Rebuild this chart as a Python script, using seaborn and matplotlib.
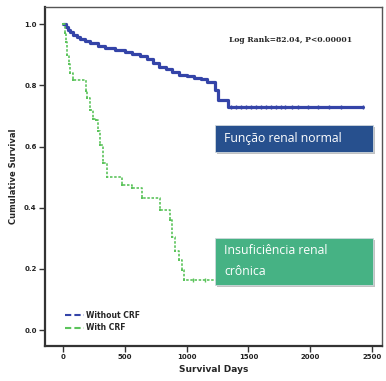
import matplotlib
matplotlib.use("Agg")
import matplotlib.pyplot as plt
import seaborn as sns
import pandas as pd
from matplotlib.patches import Rectangle
from matplotlib.lines import Line2D

# ---- data ----
days_without = [0, 20, 40, 60, 80, 110, 140, 180, 220, 280, 340, 420, 500, 560, 620,
                680, 730, 780, 830, 880, 940, 1000, 1060, 1120, 1165, 1230, 1254, 1335, 2430]
surv_without = [1.0, 0.99, 0.98, 0.975, 0.965, 0.958, 0.95, 0.945, 0.938, 0.93, 0.922,
                0.915, 0.908, 0.903, 0.895, 0.885, 0.873, 0.86, 0.852, 0.845, 0.835,
                0.83, 0.825, 0.82, 0.81, 0.784, 0.752, 0.729, 0.729]
days_with = [0, 15, 25, 35, 50, 60, 80, 185, 195, 215, 240, 265, 280, 300, 324, 356,
             477, 558, 639, 785, 866, 882, 906, 940, 963, 975, 1250]
surv_with = [1.0, 0.97, 0.94, 0.9, 0.87, 0.84, 0.817, 0.78, 0.76, 0.72, 0.69, 0.686,
             0.65, 0.605, 0.546, 0.5, 0.474, 0.464, 0.431, 0.392, 0.359, 0.304, 0.26,
             0.23, 0.196, 0.163, 0.163]
censor_without = [1360, 1400, 1440, 1480, 1520, 1560, 1600, 1640, 1680, 1720, 1760,
                  1800, 1850, 1900, 1980, 2060, 2150, 2250, 2430]
censor_with = [1050, 1150]
groups = ["Without CRF", "With CRF"]
yticks = [0.0, 0.2, 0.4, 0.6, 0.8, 1.0]
xticks = [0, 500, 1000, 1500, 2000, 2500]
colors = {"Without CRF": "#3444a8", "With CRF": "#5cc45c"}

df = pd.concat([
    pd.DataFrame({"days": days_without, "surv": surv_without, "group": groups[0]}),
    pd.DataFrame({"days": days_with, "surv": surv_with, "group": groups[1]}),
])
cen = pd.concat([
    pd.DataFrame({"days": censor_without, "surv": [surv_without[-1]] * len(censor_without), "group": groups[0]}),
    pd.DataFrame({"days": censor_with, "surv": [surv_with[-1]] * len(censor_with), "group": groups[1]}),
])

sns.set_style("white")
W, H = 386, 381
fig = plt.figure(figsize=(W / 100, H / 100), dpi=100)
ax = fig.add_axes([45 / W, 1 - 346 / H, (382 - 45) / W, (346 - 7) / H])

sns.lineplot(data=df[df.group == groups[0]], x="days", y="surv", color=colors[groups[0]],
             drawstyle="steps-post", estimator=None, sort=False, lw=2.3, ax=ax, legend=False)
sns.lineplot(data=df[df.group == groups[1]], x="days", y="surv", color=colors[groups[1]],
             drawstyle="steps-post", estimator=None, sort=False, lw=1.2, ls=(0, (1.5, 1)),
             marker="s", markersize=2, markeredgewidth=0, ax=ax, legend=False)
sns.scatterplot(data=cen, x="days", y="surv", hue="group", palette=colors, marker="|",
                s=10, linewidth=1.0, ax=ax, legend=False)

ax.set_xlim(-146, 2581)
ax.set_ylim(-0.052, 1.056)
ax.set_xticks(xticks)
ax.set_xticklabels([str(v) for v in xticks])
ax.set_yticks(yticks)
ax.set_yticklabels([f"{v:.1f}" for v in yticks])
ax.tick_params(axis="both", direction="out", length=4, width=1, labelsize=5, pad=2,
               colors="#333333", left=True, bottom=True)
for lab in ax.get_xticklabels() + ax.get_yticklabels():
    lab.set_fontweight("bold")
    lab.set_color("#222222")
for s in ["left", "bottom"]:
    ax.spines[s].set_linewidth(1.6)
    ax.spines[s].set_color("#333333")
for s in ["top", "right"]:
    ax.spines[s].set_linewidth(1.0)
    ax.spines[s].set_color("#555555")

ax.set_xlabel("Survival Days", fontsize=6.5, fontweight="bold", labelpad=3)
ax.set_ylabel("Cumulative Survival", fontsize=6, fontweight="bold", labelpad=4)

fig.text(291 / W, 1 - 40 / H, "Log Rank=82.04, P<0.00001",
         ha="center", va="center", fontsize=5.5, fontweight="bold", family="DejaVu Serif")

handles = [Line2D([], [], color=colors[g], ls=(0, (3, 1.5)), lw=1.5) for g in groups]
leg = ax.legend(handles, groups, loc="lower left", bbox_to_anchor=(0.04, 0.02), frameon=False,
                prop={"size": 5.5, "weight": "bold"}, handlelength=2.5, handletextpad=0.2,
                labelspacing=0.5)

def box(x0, y0, x1, y1, color, text, ty):
    fx, fy = x0 / W, 1 - y1 / H
    fw, fh = (x1 - x0) / W, (y1 - y0) / H
    fig.add_artist(Rectangle((fx + 2 / W, fy - 2 / H), fw, fh, transform=fig.transFigure,
                             facecolor="#9a9a9a", edgecolor="none", alpha=0.6))
    fig.add_artist(Rectangle((fx, fy), fw, fh, transform=fig.transFigure,
                             facecolor=color, edgecolor="#cfd8dc", lw=0.6))
    fig.text((x0 + 9) / W, 1 - ty / H, text, color="white", fontsize=8.8, family="Open Sans",
             ha="left", va="center", linespacing=1.75)

box(215, 125, 373, 152, "#27508e", "Função renal normal", 138.5)
box(215, 238, 373, 285, "#46b284", "Insuficiência renal\ncrônica", 261)

fig.savefig("out.png", dpi=100, facecolor="white")
